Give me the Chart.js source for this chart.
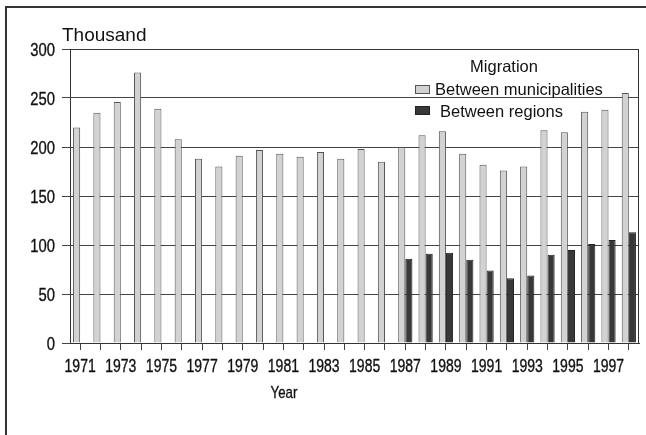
<!DOCTYPE html>
<html>
<head>
<meta charset="utf-8">
<title>Migration</title>
<script src="https://cdn.jsdelivr.net/npm/chart.js@4/dist/chart.umd.min.js"></script>
<style>
  html, body { margin: 0; padding: 0; background: #fff; }
  #wrap { position: relative; width: 646px; height: 435px; }
</style>
</head>
<body>
<div id="wrap"><canvas id="migrationChart" width="646" height="435"></canvas></div>
<script>
(function () {
    'use strict';

    // -----------------------------------------------------------------------
    // Data (thousand persons)
    // -----------------------------------------------------------------------
    const years = [
        '1971', '1972', '1973', '1974', '1975', '1976', '1977', '1978', '1979', '1980',
        '1981', '1982', '1983', '1984', '1985', '1986', '1987', '1988', '1989', '1990',
        '1991', '1992', '1993', '1994', '1995', '1996', '1997', '1998',
    ];
    const betweenMunicipalities = [
        220, 235, 246, 276, 239, 208, 188, 180, 191, 197,
        193, 190, 195, 188, 198, 185, 200, 212, 216, 193,
        182, 176, 180, 217, 215, 236, 238, 255,
    ];
    const betweenRegions = [
        null, null, null, null, null, null, null, null, null, null,
        null, null, null, null, null, null, 86, 91, 92, 85,
        74, 66, 69, 90, 95, 101, 105, 113,
    ];
    const yTickValues = [0, 50, 100, 150, 200, 250, 300];
    const seriesNames = ['Between municipalities', 'Between regions'];
    const legendTitle = 'Migration';
    const yUnit = 'Thousand';
    const xTitle = 'Year';

    const LIGHT = '#d2d2d2';
    const DARK  = '#383838';
    const INK   = '#111';
    const FONT  = "'Liberation Sans', Arial, sans-serif";

    // Condensed-looking text: regular face squeezed horizontally,
    // with a hairline stroke so the strokes don't come out too thin
    function squeezedText(ctx, text, x, y, align, sx) {
        ctx.save();
        ctx.translate(x, y);
        ctx.scale(sx, 1);
        ctx.textAlign = align;
        ctx.fillText(text, 0, 0);
        ctx.strokeStyle = INK;
        ctx.lineWidth = 0.35;
        ctx.strokeText(text, 0, 0);
        ctx.restore();
    }

    // -----------------------------------------------------------------------
    // Frame, plot border, tick labels, legend and axis titles
    // -----------------------------------------------------------------------
    const decor = {
        id: 'decor',
        beforeDraw: function (chart) {
            const ctx = chart.ctx;
            ctx.save();
            ctx.fillStyle = '#fff';
            ctx.fillRect(0, 0, chart.width, chart.height);
            ctx.strokeStyle = '#333';
            ctx.lineWidth = 2;
            ctx.beginPath();
            ctx.moveTo(6, chart.height);
            ctx.lineTo(6, 7);
            ctx.lineTo(chart.width, 7);
            ctx.stroke();
            ctx.restore();
        },
        afterDraw: function (chart) {
            const ctx = chart.ctx;
            const area = chart.chartArea;
            const xs = chart.scales.x;
            const ys = chart.scales.y;
            ctx.save();

            // plot box
            ctx.strokeStyle = '#333';
            ctx.lineWidth = 1;
            ctx.strokeRect(area.left + 0.5, area.top + 0.5, area.right - area.left - 1, area.bottom - area.top);

            ctx.fillStyle = INK;
            ctx.textBaseline = 'alphabetic';

            // y tick labels
            ctx.font = '19px ' + FONT;
            yTickValues.forEach(function (v) {
                squeezedText(ctx, String(v), 55, ys.getPixelForValue(v) + 7, 'right', 0.78);
            });

            // x tick labels, every second year
            ctx.font = '17.5px ' + FONT;
            years.forEach(function (y, i) {
                if (i % 2 !== 0) return;
                squeezedText(ctx, y, xs.getPixelForTick(i), 372, 'center', 0.8);
            });

            // unit above the y axis
            ctx.textAlign = 'left';
            ctx.font = '19px ' + FONT;
            ctx.fillText(yUnit, 62, 41);

            // legend inside the plot
            ctx.font = '16.5px ' + FONT;
            ctx.textAlign = 'center';
            ctx.fillText(legendTitle, 504, 72);
            ctx.textAlign = 'left';

            const boxes = [
                { y: 85, tx: 435, ty: 95, fill: LIGHT, stroke: '#555' },
                { y: 106, tx: 440, ty: 117, fill: DARK, stroke: '#222' },
            ];
            boxes.forEach(function (b, i) {
                ctx.fillStyle = b.fill;
                ctx.fillRect(415, b.y, 15, 9);
                ctx.strokeStyle = b.stroke;
                ctx.strokeRect(415.5, b.y + 0.5, 14, 8);
                ctx.fillStyle = INK;
                ctx.fillText(seriesNames[i], b.tx, b.ty);
            });

            // x axis title
            ctx.font = '17px ' + FONT;
            squeezedText(ctx, xTitle, 284, 398, 'center', 0.78);

            ctx.restore();
        },
    };

    // -----------------------------------------------------------------------
    // Chart
    // -----------------------------------------------------------------------
    new Chart(document.getElementById('migrationChart'), {
        type: 'bar',
        data: {
            labels: years,
            datasets: [
                {
                    label: seriesNames[0],
                    data: betweenMunicipalities,
                    backgroundColor: LIGHT,
                    borderColor: '#555',
                    borderWidth: 1,
                    borderSkipped: 'bottom',
                },
                {
                    label: seriesNames[1],
                    data: betweenRegions,
                    backgroundColor: DARK,
                    borderColor: '#222',
                    borderWidth: 1,
                    borderSkipped: 'bottom',
                },
            ],
        },
        options: {
            responsive: false,
            animation: false,
            datasets: {
                bar: { categoryPercentage: 0.7, barPercentage: 1.0 },
            },
            layout: { padding: { top: 49, right: 7, left: 0, bottom: 0 } },
            plugins: {
                legend: { display: false },
                tooltip: { enabled: false },
            },
            scales: {
                x: {
                    grid: {
                        display: true,
                        drawOnChartArea: false,
                        offset: false,
                        tickLength: 7,
                        color: '#444',
                    },
                    border: { color: '#333', width: 1 },
                    ticks: { display: false, autoSkip: false, maxRotation: 0 },
                    afterFit: function (s) { s.height = 92; },
                },
                y: {
                    min: 0,
                    max: 300,
                    ticks: { display: false, stepSize: 50 },
                    grid: { color: '#444', lineWidth: 1, tickLength: 8 },
                    border: { color: '#333', width: 1 },
                    afterFit: function (s) { s.width = 70; },
                },
            },
        },
        plugins: [decor],
    });
})();
</script>
</body>
</html>
